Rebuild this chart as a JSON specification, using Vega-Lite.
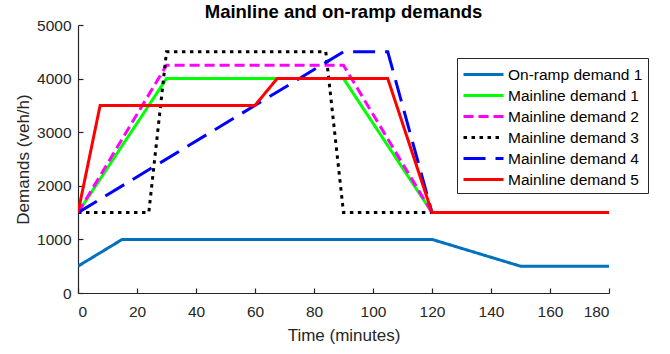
{
  "$schema": "https://vega.github.io/schema/vega-lite/v6.json",
  "width": 531,
  "height": 268,
  "autosize": "none",
  "padding": {"left": 78, "top": 25, "right": 61, "bottom": 61},
  "background": "white",
  "config": {
    "view": {"stroke": null},
    "font": "Liberation Sans",
    "axis": {"grid": false, "domainColor": "#262626", "tickColor": "#262626", "labelColor": "#262626", "titleColor": "#262626", "labelFont": "Liberation Sans", "titleFont": "Liberation Sans", "labelFontSize": 15.5, "titleFontSize": 17, "titleFontWeight": "normal", "domainWidth": 1.2, "tickSize": -5, "tickWidth": 1.2, "format": "d"},
    "legend": {"title": null, "orient": "none", "legendX": 379, "legendY": 33, "symbolType": "M-2,0H2", "symbolSize": 400, "symbolStrokeWidth": 3, "labelFontSize": 15.5, "labelColor": "#000000", "labelFont": "Liberation Sans", "strokeColor": "#262626", "fillColor": "white", "padding": 5, "rowPadding": 1, "labelOffset": 13, "symbolOffset": 10}
  },
  "title": {"text": "Mainline and on-ramp demands", "fontSize": 18.5, "fontWeight": "bold", "font": "Liberation Sans", "color": "#000000", "offset": -3, "anchor": "middle"},
  "data": {"values": [
    {"s": "On-ramp demand 1", "t": 0, "v": 500},
    {"s": "On-ramp demand 1", "t": 15, "v": 1000},
    {"s": "On-ramp demand 1", "t": 120, "v": 1000},
    {"s": "On-ramp demand 1", "t": 150, "v": 500},
    {"s": "On-ramp demand 1", "t": 180, "v": 500},
    {"s": "Mainline demand 1", "t": 0, "v": 1500},
    {"s": "Mainline demand 1", "t": 30, "v": 4000},
    {"s": "Mainline demand 1", "t": 90, "v": 4000},
    {"s": "Mainline demand 1", "t": 120, "v": 1500},
    {"s": "Mainline demand 1", "t": 180, "v": 1500},
    {"s": "Mainline demand 2", "t": 0, "v": 1500},
    {"s": "Mainline demand 2", "t": 30, "v": 4250},
    {"s": "Mainline demand 2", "t": 90, "v": 4250},
    {"s": "Mainline demand 2", "t": 120, "v": 1500},
    {"s": "Mainline demand 2", "t": 180, "v": 1500},
    {"s": "Mainline demand 3", "t": 0, "v": 1500},
    {"s": "Mainline demand 3", "t": 24, "v": 1500},
    {"s": "Mainline demand 3", "t": 30, "v": 4500},
    {"s": "Mainline demand 3", "t": 84, "v": 4500},
    {"s": "Mainline demand 3", "t": 90, "v": 1500},
    {"s": "Mainline demand 3", "t": 180, "v": 1500},
    {"s": "Mainline demand 4", "t": 0, "v": 1500},
    {"s": "Mainline demand 4", "t": 90, "v": 4500},
    {"s": "Mainline demand 4", "t": 105, "v": 4500},
    {"s": "Mainline demand 4", "t": 120, "v": 1500},
    {"s": "Mainline demand 4", "t": 180, "v": 1500},
    {"s": "Mainline demand 5", "t": 0, "v": 1500},
    {"s": "Mainline demand 5", "t": 7.5, "v": 3500},
    {"s": "Mainline demand 5", "t": 60, "v": 3500},
    {"s": "Mainline demand 5", "t": 67.5, "v": 4000},
    {"s": "Mainline demand 5", "t": 105, "v": 4000},
    {"s": "Mainline demand 5", "t": 120, "v": 1500},
    {"s": "Mainline demand 5", "t": 180, "v": 1500}
  ]},
  "mark": {"type": "line", "strokeWidth": 3, "clip": true},
  "encoding": {
    "x": {"field": "t", "type": "quantitative", "title": "Time (minutes)", "scale": {"domain": [0, 180], "nice": false, "zero": false}, "axis": {"values": [0, 20, 40, 60, 80, 100, 120, 140, 160, 180], "labelPadding": 16, "titlePadding": 8}},
    "y": {"field": "v", "type": "quantitative", "title": "Demands (veh/h)", "scale": {"domain": [0, 5000], "nice": false}, "axis": {"values": [0, 1000, 2000, 3000, 4000, 5000], "labelPadding": 12, "titlePadding": 4}},
    "color": {"field": "s", "type": "nominal", "sort": null,
      "scale": {"domain": ["On-ramp demand 1", "Mainline demand 1", "Mainline demand 2", "Mainline demand 3", "Mainline demand 4", "Mainline demand 5"], "range": ["#0072BD", "#00FF00", "#FF00FF", "#000000", "#0000FF", "#FF0000"]}
    },
    "strokeDash": {"field": "s", "type": "nominal", "sort": null,
      "scale": {"domain": ["On-ramp demand 1", "Mainline demand 1", "Mainline demand 2", "Mainline demand 3", "Mainline demand 4", "Mainline demand 5"], "range": [[1, 0], [1, 0], [10, 5], [3.5, 4.5], [22, 10], [1, 0]]}
    },
    "order": {"field": "t", "type": "quantitative"}
  }
}
